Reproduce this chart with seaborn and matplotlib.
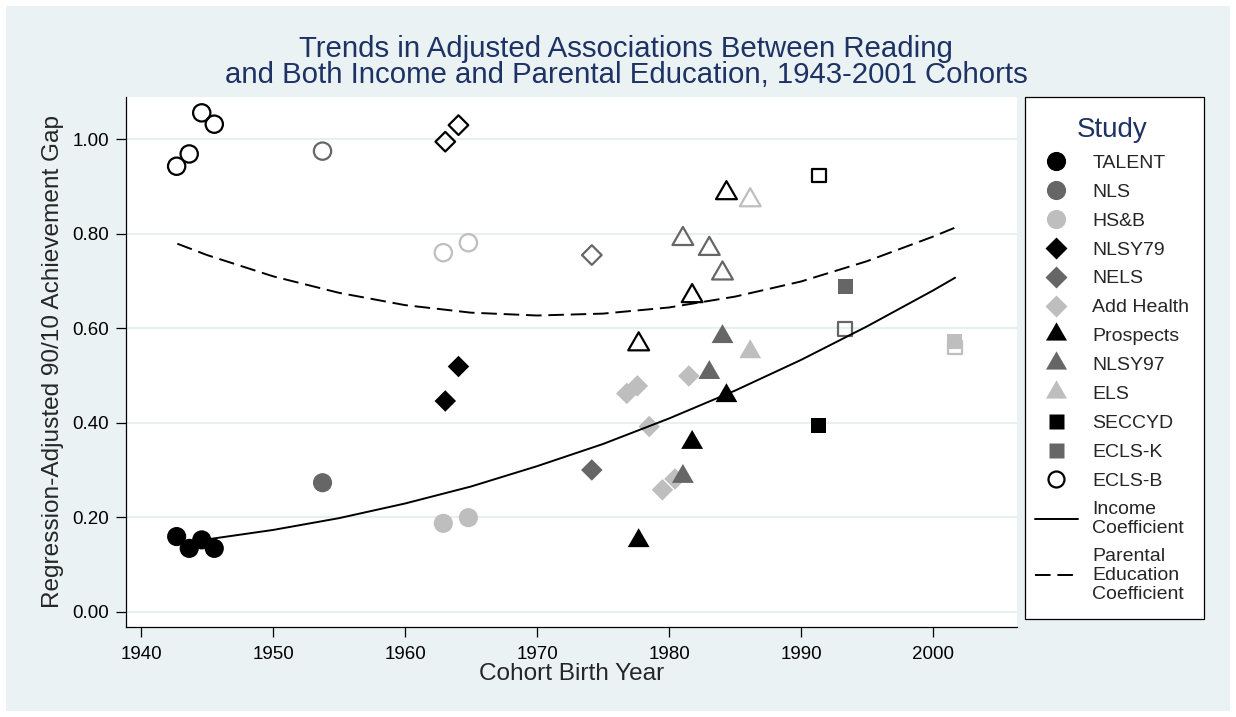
import numpy as np
import pandas as pd
import matplotlib
matplotlib.use("Agg")
import matplotlib.pyplot as plt
from matplotlib.lines import Line2D
from matplotlib.patches import Rectangle
from matplotlib.path import Path
import seaborn as sns

# --- Data ---
studies = ["TALENT", "NLS", "HS&B", "NLSY79", "NELS", "Add Health",
           "Prospects", "NLSY97", "ELS", "SECCYD", "ECLS-K", "ECLS-B"]

years = {
    "TALENT": [1942.70, 1943.65, 1944.60, 1945.55],
    "NLS": [1953.75],
    "HS&B": [1962.90, 1964.80],
    "NLSY79": [1963.05, 1964.05],
    "NELS": [1974.15],
    "Add Health": [1976.80, 1977.60, 1978.50, 1979.50, 1980.45, 1981.50],
    "Prospects": [1977.70, 1981.75, 1984.35],
    "NLSY97": [1981.05, 1983.05, 1984.05],
    "ELS": [1986.15],
    "SECCYD": [1991.35],
    "ECLS-K": [1993.35],
    "ECLS-B": [2001.65],
}
income = {
    "TALENT": [0.159, 0.134, 0.152, 0.134],
    "NLS": [0.273],
    "HS&B": [0.187, 0.199],
    "NLSY79": [0.446, 0.519],
    "NELS": [0.300],
    "Add Health": [0.462, 0.478, 0.392, 0.258, 0.281, 0.499],
    "Prospects": [0.150, 0.358, 0.457],
    "NLSY97": [0.286, 0.506, 0.582],
    "ELS": [0.550],
    "SECCYD": [0.395],
    "ECLS-K": [0.689],
    "ECLS-B": [0.572],
}
parent_ed = {
    "TALENT": [0.943, 0.969, 1.056, 1.032],
    "NLS": [0.975],
    "HS&B": [0.760, 0.781],
    "NLSY79": [0.995, 1.030],
    "NELS": [0.755],
    "Add Health": [],
    "Prospects": [0.566, 0.668, 0.886],
    "NLSY97": [0.789, 0.768, 0.716],
    "ELS": [0.871],
    "SECCYD": [0.923],
    "ECLS-K": [0.598],
    "ECLS-B": [0.559],
}

# fitted trend lines
fit_years = [1942.75, 1945, 1950, 1955, 1960, 1965, 1970, 1975, 1980,
             1985, 1990, 1995, 2000, 2001.67]
fit_income = [0.146, 0.153, 0.173, 0.198, 0.229, 0.265, 0.308, 0.355, 0.409,
              0.468, 0.533, 0.604, 0.680, 0.707]
fit_parent = [0.779, 0.755, 0.710, 0.675, 0.649, 0.633, 0.627, 0.631, 0.644,
              0.667, 0.699, 0.742, 0.794, 0.813]

# --- Styles ---
BLACK, DGRAY, LGRAY = "#000000", "#666666", "#BEBEBE"
NAVY = "#1E3264"
BG = "#EAF2F3"
tri = Path([(0, 0.577), (-0.5, -0.289), (0.5, -0.289), (0, 0.577)], closed=True)
style = {
    "TALENT": ("o", BLACK), "NLS": ("o", DGRAY), "HS&B": ("o", LGRAY),
    "NLSY79": ("D", BLACK), "NELS": ("D", DGRAY), "Add Health": ("D", LGRAY),
    "Prospects": (tri, BLACK), "NLSY97": (tri, DGRAY), "ELS": (tri, LGRAY),
    "SECCYD": ("s", BLACK), "ECLS-K": ("s", DGRAY), "ECLS-B": ("s", LGRAY),
}
fill_size = {"o": 190, "D": 120, "s": 115, "t": 330}
hollow_size = {"o": 155, "D": 100, "s": 95, "t": 300}


def mkey(m):
    return "t" if isinstance(m, Path) else m


sns.set_style("ticks")
plt.rcParams["font.family"] = ["Liberation Sans", "DejaVu Sans"]

W, H = 1236, 717
fig = plt.figure(figsize=(W / 100, H / 100), dpi=100, facecolor="white")
fig.patches.append(Rectangle((6 / W, 6 / H), (W - 12) / W, (H - 12) / H,
                             transform=fig.transFigure, facecolor=BG,
                             edgecolor="none", zorder=-10))

ax = fig.add_axes([125.7 / W, 1 - 626.7 / H, (1017 - 125.7) / W, (626.7 - 96.7) / H])
ax.set_facecolor("white")

# hollow markers: parental education coefficient
for st in studies:
    m, c = style[st]
    if len(parent_ed[st]) == 0:
        continue
    sns.scatterplot(x=years[st], y=parent_ed[st], marker=m, s=hollow_size[mkey(m)],
                    facecolor="none", edgecolor=c, linewidth=1.6,
                    ax=ax, legend=False, zorder=3)

# filled markers: income coefficient
for st in studies:
    m, c = style[st]
    sns.scatterplot(x=years[st], y=income[st], marker=m, s=fill_size[mkey(m)],
                    color=c, edgecolor="none", linewidth=0,
                    ax=ax, legend=False, zorder=4)

sns.lineplot(x=fit_years, y=fit_income, color="black", linewidth=1.4,
             ax=ax, zorder=5)
sns.lineplot(x=fit_years, y=fit_parent, color="black", linewidth=1.4,
             linestyle=(0, (8, 3.5)), ax=ax, zorder=5)

ax.set_xlim(1938.84, 2006.36)
ax.set_ylim(-0.0318, 1.0902)
ax.set_xticks(range(1940, 2001, 10))
ax.set_yticks([0, 0.2, 0.4, 0.6, 0.8, 1.0])
ax.set_yticklabels([f"{v:.2f}" for v in [0, 0.2, 0.4, 0.6, 0.8, 1.0]])
ax.grid(axis="y", color="#E6EEF0", linewidth=1.3)
ax.grid(axis="x", visible=False)
for sp in ["top", "right"]:
    ax.spines[sp].set_visible(False)
for sp in ["left", "bottom"]:
    ax.spines[sp].set_color("black")
    ax.spines[sp].set_linewidth(0.9)
ax.tick_params(axis="both", length=7, width=0.9, color="black",
               labelsize=13.5, labelcolor="black")
ax.tick_params(axis="y", pad=5)
ax.tick_params(axis="x", pad=7)

ax.set_xlabel("Cohort Birth Year", fontsize=17.6)
ax.set_ylabel("Regression-Adjusted 90/10 Achievement Gap", fontsize=17.6)
ax.xaxis.set_label_coords(0.5, -0.068)
ax.yaxis.set_label_coords(-0.069, 0.5)

fig.text(626 / W, 1 - 62 / H,
         "Trends in Adjusted Associations Between Reading\n"
         "and Both Income and Parental Education, 1943-2001 Cohorts",
         ha="center", va="center", fontsize=21.2, color=NAVY, linespacing=0.9)

# legend box
fig.patches.append(Rectangle((1024.7 / W, 1 - 619 / H), (1204 - 1024.7) / W,
                             (619 - 97) / H, transform=fig.transFigure,
                             facecolor="white", edgecolor="black",
                             linewidth=0.9, zorder=1))
handles = []
for st in studies:
    m, c = style[st]
    k = mkey(m)
    ms = 17.5 if k == "t" else (13.8 if k == "o" else 10.8)
    if st == "ECLS-B":
        handles.append(Line2D([], [], linestyle="none", marker="o", markersize=11.5,
                              markerfacecolor="none", markeredgecolor="black",
                              markeredgewidth=1.6))
    else:
        handles.append(Line2D([], [], linestyle="none", marker=m, markersize=ms,
                              markerfacecolor=c, markeredgecolor="none"))
handles.append(Line2D([], [], color="black", linewidth=1.4))
handles.append(Line2D([], [], color="black", linewidth=1.4, linestyle=(0, (8, 3.5))))
labels = studies + ["Income\nCoefficient", "Parental\nEducation\nCoefficient"]

leg = fig.legend(handles, labels, loc="upper left",
                 bbox_to_anchor=(1035 / W, 1 - 117 / H),
                 frameon=False, borderpad=0, borderaxespad=0,
                 handlelength=2.2, handletextpad=0.75, labelspacing=0.58,
                 fontsize=14, title="Study", title_fontsize=20)
leg.get_title().set_color(NAVY)
leg.set_zorder(6)
for t in leg.get_texts():
    t.set_linespacing(1.15)

fig.savefig("out.png", dpi=100, facecolor="white")
